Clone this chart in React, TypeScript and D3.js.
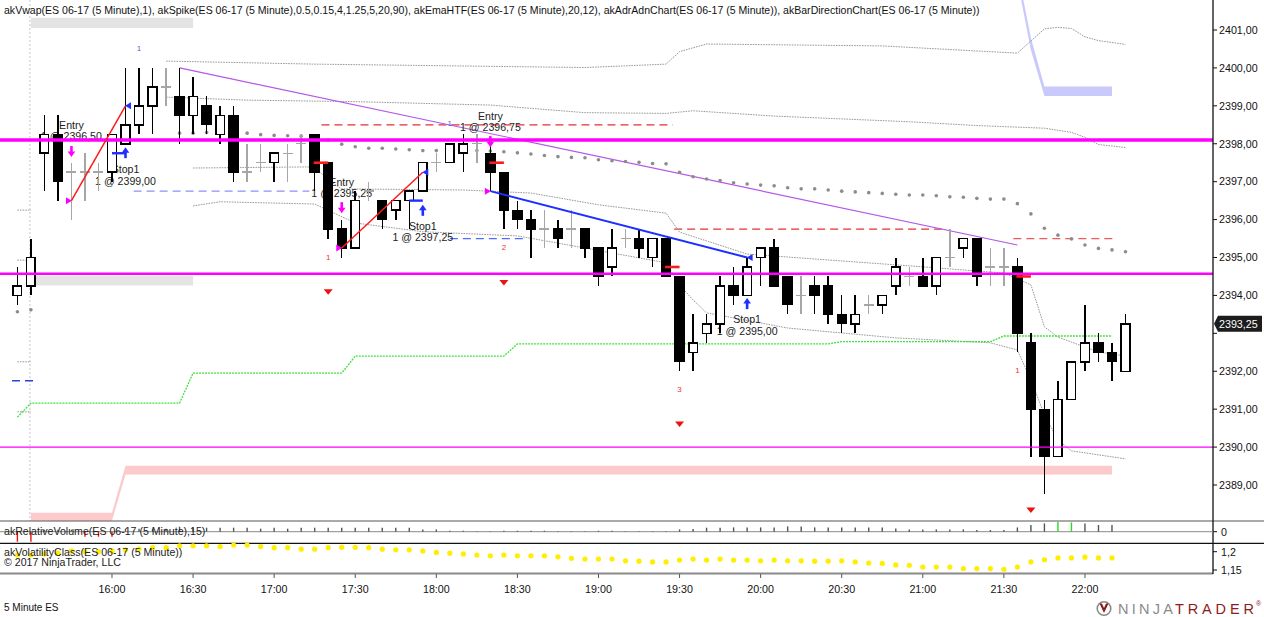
import React from "react";
import * as d3 from "d3";

// ---------- DATA ----------
const FIRST_BAR = "15:25";
const BAR_MINUTES = 5;

const open = [2394.0,2394.25,2397.75,2398.25,2397.25,2397.25,2397.25,2397.25,2398.0,2398.5,
2399.0,2399.5,2399.25,2398.75,2399.0,2398.25,2398.75,2397.25,2397.5,2397.5,
2397.75,2398.0,2398.25,2397.5,2395.75,2395.25,2396.75,2396.5,2396.25,2396.5,
2396.75,2397.5,2397.5,2397.75,2398.0,2397.75,2397.25,2396.25,2396.0,2395.75,
2395.75,2395.75,2395.75,2395.25,2394.75,2395.5,2395.5,2395.0,2395.5,2394.5,
2392.5,2393.0,2393.25,2394.25,2394.0,2395.0,2395.25,2394.5,2394.0,2394.25,
2394.25,2393.5,2393.25,2393.75,2393.75,2394.25,2394.5,2394.5,2394.25,2395.0,
2395.25,2395.5,2394.75,2394.75,2394.75,2392.75,2391.0,2389.75,2391.25,2392.25,
2392.75,2392.5,2392.0];
const high = [2394.75,2395.5,2398.75,2398.75,2397.5,2397.75,2397.5,2398.25,2400.0,2400.0,
2400.0,2400.0,2400.0,2399.75,2399.25,2399.0,2399.0,2398.0,2398.0,2397.75,
2398.0,2398.25,2398.25,2397.5,2396.0,2396.75,2397.0,2396.5,2396.5,2396.75,
2397.5,2397.75,2398.0,2398.25,2398.25,2398.0,2397.25,2396.5,2396.25,2396.25,
2396.0,2396.25,2395.75,2395.25,2395.75,2395.75,2395.75,2395.5,2395.5,2394.5,
2393.5,2393.5,2394.5,2394.75,2395.0,2395.25,2395.5,2394.5,2394.5,2394.5,
2394.5,2394.0,2394.0,2394.0,2394.0,2395.0,2394.75,2395.0,2395.0,2395.75,
2395.5,2395.5,2395.25,2395.25,2395.0,2393.0,2391.25,2391.75,2392.25,2393.75,
2393.0,2392.75,2393.5];
const low = [2393.75,2394.0,2396.75,2396.5,2396.0,2396.5,2396.75,2397.0,2398.0,2398.25,
2398.25,2399.0,2398.0,2398.25,2398.25,2398.0,2397.0,2397.0,2397.25,2397.0,
2397.0,2397.5,2396.75,2395.5,2395.0,2395.25,2396.5,2395.75,2396.0,2395.75,
2396.75,2397.25,2397.5,2397.25,2397.5,2396.75,2395.75,2395.75,2395.0,2395.25,
2395.25,2395.25,2395.0,2394.25,2394.5,2395.25,2395.0,2394.75,2394.5,2392.0,
2392.0,2392.75,2393.0,2393.75,2394.0,2394.25,2394.25,2393.5,2393.5,2393.5,
2393.25,2393.0,2393.0,2393.5,2393.5,2394.0,2394.25,2394.25,2394.0,2394.75,
2395.0,2394.25,2394.25,2394.25,2392.5,2389.75,2388.75,2389.75,2391.25,2392.0,
2392.25,2391.75,2392.0];
const close = [2394.25,2395.0,2398.25,2397.0,2397.25,2397.25,2397.25,2398.25,2398.5,2399.0,
2399.5,2399.5,2398.75,2399.25,2398.5,2398.75,2397.25,2397.25,2397.5,2397.75,
2397.75,2398.0,2397.25,2395.75,2395.25,2396.5,2396.75,2396.0,2396.5,2396.75,
2397.5,2397.5,2398.0,2398.0,2398.0,2397.25,2396.25,2396.0,2395.75,2395.75,
2395.5,2395.75,2395.25,2394.5,2395.25,2395.5,2395.25,2395.5,2394.5,2392.25,
2392.75,2393.25,2394.25,2394.0,2394.75,2395.25,2394.25,2393.75,2394.0,2394.0,
2393.5,2393.25,2393.5,2393.75,2394.0,2394.75,2394.5,2394.25,2395.0,2395.0,
2395.5,2394.5,2394.75,2394.75,2393.0,2391.0,2389.75,2391.25,2392.25,2392.75,
2392.5,2392.25,2393.25];

// akVwap big dots (null = not plotted)
const vwapDots = [2393.57,2393.62,null,null,null,null,null,null,null,null,null,null,
2398.28,2398.28,2398.30,2398.31,2398.30,2398.28,2398.24,2398.22,2398.21,2398.20,2398.19,
2398.10,2397.99,2397.92,2397.88,2397.88,2397.86,2397.84,2397.82,2397.82,
2397.82,2397.82,2397.82,2397.81,2397.79,2397.76,2397.73,2397.69,2397.66,2397.64,
2397.63,2397.58,2397.55,2397.53,2397.51,2397.48,2397.47,2397.25,2397.13,2397.07,
2397.03,2396.97,2396.94,2396.91,2396.89,2396.84,2396.81,2396.81,2396.78,2396.75,
2396.73,2396.71,2396.69,2396.67,2396.65,2396.65,2396.63,2396.60,2396.59,2396.56,
2396.54,2396.54,2396.42,2396.15,2395.77,2395.59,2395.49,2395.33,2395.24,2395.20,2395.15];

// band lines: [bar index, price] vertices
const bandUpper2: [number, number][] = [[11,2400.18],[22,2400.10],[42,2400.01],[48,2400.10],[49,2400.43],[51,2400.63],[64,2400.58],[74,2400.39],[76,2401.03],[77,2401.07],[78,2401.04],[79,2400.82],[80,2400.72],[82,2400.62]];
const bandUpper1: [number, number][] = [[11,2399.23],[17,2399.15],[25,2399.11],[35,2399.02],[42,2398.82],[48,2398.80],[50,2398.87],[56,2398.73],[66,2398.58],[71,2398.48],[76,2398.41],[78,2398.30],[79,2398.17],[80,2397.98],[82,2397.90]];
const bandLower1: [number, number][] = [[13,2397.36],[22,2397.39],[23,2397.04],[24,2396.81],[33,2396.78],[38,2396.70],[43,2396.39],[48,2396.17],[49,2395.67],[54,2395.09],[66,2394.78],[73,2394.59],[75,2394.28],[76,2393.17],[77,2392.90],[80,2392.51],[82,2392.40]];
const bandLower2: [number, number][] = [[13,2396.36],[15,2396.47],[22,2396.41],[25,2395.91],[30,2395.68],[37,2395.57],[42,2395.25],[48,2394.86],[49,2394.28],[50,2393.88],[51,2393.54],[57,2393.14],[65,2392.88],[72,2392.75],[74,2392.56],[75,2391.77],[76,2390.85],[77,2390.19],[78,2389.90],[82,2389.69]];
const prevSessionBands = [2396.25, 2394.93, 2392.25, 2390.93];

// akEmaHTF stepped line
const emaHTF: [number, number][] = [[0,2390.79],[1,2391.16],[12,2391.16],[13,2391.95],[24,2391.95],[25,2392.40],[36,2392.40],[37,2392.72],[60,2392.72],[61,2392.78],[72,2392.78],[73,2392.93],[81,2392.93]];

// akAdrAdn zones: [bar index, upper, lower]
const zoneGrayTop: [number, number, number][] = [[1,2401.32,2401.05],[13,2401.32,2401.05]];
const zoneGrayBottom: [number, number, number][] = [[1,2394.52,2394.26],[13,2394.52,2394.26]];
const zonePink: [number, number, number][] = [[1,2388.27,2388.06],[7,2388.27,2388.06],[8,2389.51,2389.28],[81,2389.51,2389.28]];
const zoneBlue: [number, number, number][] = [[74,2402.6,2402.3],[75,2400.79,2400.47],[76,2399.51,2399.26],[81,2399.51,2399.26]];

// horizontal levels
const magentaLevels = [2398.1, 2394.57, 2390.0];
const magentaWidths = [3.4, 2.4, 1.4];
const dashFrom = [22.5, 8.6, 32.0, 48.6, 73.7, -0.4];
const dashTo = [48.5, 21.6, 37.4, 68.4, 81.4, 1.3];
const dashPrice = [2398.5, 2396.75, 2395.5, 2395.75, 2395.5, 2391.75];
const dashColor = ["#e53030", "#8f8fff", "#4d6dff", "#e53030", "#ee5a5a", "#2a44d8"];

// trendline
const trendFrom: [number, number] = [12, 2400.0];
const trendTo: [number, number] = [74, 2395.33];

// trades
const tradeEntryIdx = [4, 24, 35];
const tradeEntryPrice = [2396.5, 2395.25, 2396.75];
const tradeExitIdx = [8, 30, 54];
const tradeExitPrice = [2399.0, 2397.25, 2395.0];
const tradeColor = ["#ff1a1a", "#ff1a1a", "#1f2fff"];
const labelIdx = [4, 8, 24, 30, 35, 54];
const labelTitle = ["Entry", "Stop1", "Entry", "Stop1", "Entry", "Stop1"];
const labelFill = ["1 @ 2396,50", "1 @ 2399,00", "1 @ 2395,25", "1 @ 2397,25", "1 @ 2396,75", "1 @ 2395,00"];
const labelPrice = [2398.39, 2397.22, 2396.89, 2395.73, 2398.63, 2393.26];

// akSpike markers
const sellArrowIdx = [4, 24, 35];
const sellArrowTip = [2397.65, 2396.17, 2397.91];
const buyArrowIdx = [8, 30, 54];
const buyArrowTip = [2397.91, 2396.39, 2393.93];
const stopTickFrom = [7, 29];
const stopTickPrice = [2397.75, 2396.5];
const redTickIdx = [22, 35, 48, 74];
const redTickPrice = [2397.5, 2397.5, 2394.75, 2394.5];
const countIdx = [23, 36, 49, 74];
const countText = ["1", "2", "3", "1"];
const countPrice = [2395.02, 2395.29, 2391.52, 2392.03];
const downTriIdx = [23, 36, 49, 75];
const downTriPrice = [2394.10, 2394.34, 2390.61, 2388.34];
const purpleOneIdx = [9, 32];
const purpleOnePrice = [2400.53, 2398.55];

// lower panels
const relVolume = [-10,-10,2,2,2,-5,-5,-5,3,3,
3,3,5,4,4,4,4,4,3,4,
3,4,4,4,4,4,4,4,4,4,
2.3,2.3,1,1,0.5,0.5,1,1,1,1,
0.5,0.5,0.5,1,1,0.5,0.5,0.5,0.5,2.3,
2.7,4,4,4.3,4.3,4.3,4.3,5.3,5.3,4.3,
4.3,4.3,4.3,4.3,4.3,3.3,2.3,2.3,2.3,2.3,
2.3,1.7,1.7,1.7,4.3,6.7,8.3,10,9.3,8.3,
6.7,6.7];
const volClass = [1.191,1.191,1.194,1.196,1.202,1.200,1.200,1.202,1.205,1.207,
1.211,1.211,1.216,1.216,1.216,1.214,1.218,1.218,1.214,1.211,
1.211,1.207,1.207,1.211,1.212,1.212,1.211,1.207,1.205,1.205,
1.202,1.198,1.196,1.194,1.191,1.189,1.191,1.189,1.189,1.189,
1.186,1.182,1.180,1.180,1.180,1.175,1.174,1.172,1.172,1.177,
1.180,1.177,1.180,1.177,1.177,1.175,1.177,1.175,1.175,1.174,
1.174,1.175,1.172,1.169,1.168,1.164,1.163,1.158,1.158,1.158,
1.154,1.154,1.154,1.152,1.158,1.172,1.178,1.183,1.183,1.185,
1.183,1.183];

const timeTicks = ["16:00","16:30","17:00","17:30","18:00","18:30","19:00","19:30","20:00","20:30","21:00","21:30","22:00"];
const priceTicks = [2389,2390,2391,2392,2393,2394,2395,2396,2397,2398,2399,2400,2401];
const volClassTicks = [1.2, 1.15];

const TITLE = "akVwap(ES 06-17 (5 Minute),1), akSpike(ES 06-17 (5 Minute),0.5,0.15,4,1.25,5,20,90), akEmaHTF(ES 06-17 (5 Minute),20,12), akAdrAdnChart(ES 06-17 (5 Minute)), akBarDirectionChart(ES 06-17 (5 Minute))";

// ---------- LAYOUT ----------
const W = 1264, H = 617;
const AXIS_X = 1213;
const MAIN_BOTTOM = 521;
const FONT = "'Liberation Sans', Arial, sans-serif";

const toMin = (s: string) => { const [h, m] = s.split(":").map(Number); return h * 60 + m; };

export default function App() {
  const n = open.length;
  const xs = d3.scaleLinear().domain([0, n - 1]).range([17.4, 1125.5]);
  const ys = d3.scaleLinear().domain([2389, 2401]).range([485, 30]);
  const yRel = d3.scaleLinear().domain([-10, 10]).range([541.7, 521.7]);
  const yVc = d3.scaleLinear().domain([1.15, 1.2]).range([570, 551.7]);
  const fmt = (v: number) => d3.format(".2f")(v).replace(".", ",");
  const fmtVc = (v: number) => String(v).replace(".", ",");

  const line = d3.line<[number, number]>().x(d => xs(d[0])).y(d => ys(d[1]));
  const area = d3.area<[number, number, number]>().x(d => xs(d[0])).y0(d => ys(d[2])).y1(d => ys(d[1]));

  const barIdxOfTime = (t: string) => (toMin(t) - toMin(FIRST_BAR)) / BAR_MINUTES;
  const lastY = ys(close[n - 1]);

  const candles = open.map((o, i) => {
    const c = close[i];
    const x = xs(i);
    if (o === c) {
      return (
        <g key={i} stroke="#a6a6a6" strokeWidth={1.4}>
          <line x1={x} x2={x} y1={ys(high[i])} y2={ys(low[i])} />
          <line x1={x - 5} x2={x + 5} y1={ys(o)} y2={ys(o)} />
        </g>
      );
    }
    const up = c > o;
    const top = ys(Math.max(o, c));
    const bot = ys(Math.min(o, c));
    return (
      <g key={i}>
        <line x1={x} x2={x} y1={ys(high[i])} y2={ys(low[i])} stroke="#000" strokeWidth={1.5} />
        {up ? (
          <rect x={x - 4.3} y={top} width={8.6} height={Math.max(bot - top, 1)} fill="#fff" stroke="#000" strokeWidth={1.5} />
        ) : (
          <rect x={x - 5.2} y={top - 0.6} width={10.4} height={Math.max(bot - top + 1.2, 1)} fill="#000" />
        )}
      </g>
    );
  });

  return (
    <div style={{ position: "absolute", left: 0, top: 0, width: W, height: H, overflow: "hidden", background: "#fff" }}>
      <style>{"body{margin:0;overflow:hidden}"}</style>
      <svg width={W} height={H} style={{ display: "block", fontFamily: FONT }}>
        <defs>
          <clipPath id="mainClip"><rect x={0} y={0} width={AXIS_X} height={MAIN_BOTTOM} /></clipPath>
        </defs>
        <rect x={0} y={0} width={W} height={H} fill="#fff" />

        <g clipPath="url(#mainClip)">
          {/* session break */}
          <line x1={xs(1) - 1} x2={xs(1) - 1} y1={0} y2={573} stroke="#cfcfcf" strokeWidth={1.2} strokeDasharray="2 2" />

          {/* ADR / ADN zones */}
          <path d={area(zoneGrayTop) || ""} fill="#e4e4e4" />
          <path d={area(zoneGrayBottom) || ""} fill="#e4e4e4" />
          <path d={area(zonePink) || ""} fill="#fccaca" />
          <path d={area(zoneBlue) || ""} fill="#c9c9fb" />

          {/* dashed levels */}
          {dashPrice.map((p, i) => (
            <line key={i} x1={xs(dashFrom[i])} x2={xs(dashTo[i])} y1={ys(p)} y2={ys(p)} stroke={dashColor[i]} strokeWidth={1.3} strokeDasharray="8 5" />
          ))}

          {/* vwap bands */}
          {[bandUpper2, bandUpper1, bandLower1, bandLower2].map((b, i) => (
            <path key={i} d={line(b) || ""} fill="none" stroke="#9a9a9a" strokeWidth={1} strokeDasharray="1.6 1" />
          ))}
          {prevSessionBands.map((p, i) => (
            <line key={i} x1={xs(0)} x2={xs(1)} y1={ys(p)} y2={ys(p)} stroke="#9a9a9a" strokeWidth={1} strokeDasharray="1.6 1" />
          ))}

          {/* ema htf */}
          <path d={line(emaHTF) || ""} fill="none" stroke="#3fe23f" strokeWidth={1.3} strokeDasharray="2 1" />

          {/* trendline */}
          <line x1={xs(trendFrom[0])} y1={ys(trendFrom[1])} x2={xs(trendTo[0])} y2={ys(trendTo[1])} stroke="#b557e8" strokeWidth={1.2} />

          {/* vwap dots */}
          {vwapDots.map((v, i) => v == null ? null : (
            <circle key={i} cx={xs(i)} cy={ys(v)} r={1.8} fill="#8c8c8c" />
          ))}

          {/* trade labels */}
          {labelIdx.map((bi, i) => (
            <g key={i} fontSize={10.6} fill="#222" textAnchor="middle">
              <text x={xs(bi)} y={ys(labelPrice[i])}>{labelTitle[i]}</text>
              <text x={xs(bi)} y={ys(labelPrice[i]) + 11.5}>{labelFill[i]}</text>
            </g>
          ))}

          {/* candles */}
          <g shapeRendering="crispEdges">{candles}</g>

          {/* magenta levels */}
          {magentaLevels.map((p, i) => (
            <line key={i} x1={0} x2={AXIS_X} y1={ys(p)} y2={ys(p)} stroke="#ff00ff" strokeWidth={magentaWidths[i]} />
          ))}

          {/* trade lines */}
          {tradeEntryIdx.map((ei, i) => (
            <line key={i} x1={xs(ei)} y1={ys(tradeEntryPrice[i])} x2={xs(tradeExitIdx[i])} y2={ys(tradeExitPrice[i])} stroke={tradeColor[i]} strokeWidth={i === 2 ? 2 : 1.5} />
          ))}
          {tradeEntryIdx.map((ei, i) => {
            const x = xs(ei), y = ys(tradeEntryPrice[i]);
            return <path key={"e" + i} d={`M${x - 5.5},${y - 3.5}L${x + 0.5},${y}L${x - 5.5},${y + 3.5}Z`} fill="#ff00ff" />;
          })}
          {tradeExitIdx.map((xi, i) => {
            const x = xs(xi), y = ys(tradeExitPrice[i]);
            return <path key={"x" + i} d={`M${x + 5.5},${y - 3.5}L${x - 0.5},${y}L${x + 5.5},${y + 3.5}Z`} fill="#1f2fff" />;
          })}

          {/* sell arrows */}
          {sellArrowIdx.map((bi, i) => {
            const x = xs(bi), t = ys(sellArrowTip[i]);
            return (
              <g key={i} fill="#ff00ff">
                <rect x={x - 1.3} y={t - 11} width={2.6} height={6.5} />
                <path d={`M${x - 3.8},${t - 5.5}L${x + 3.8},${t - 5.5}L${x},${t}Z`} />
              </g>
            );
          })}
          {/* buy arrows */}
          {buyArrowIdx.map((bi, i) => {
            const x = xs(bi), t = ys(buyArrowTip[i]);
            return (
              <g key={i} fill="#1f2fff">
                <rect x={x - 1.3} y={t + 4.5} width={2.6} height={6.5} />
                <path d={`M${x - 3.8},${t + 5.5}L${x + 3.8},${t + 5.5}L${x},${t}Z`} />
              </g>
            );
          })}
          {stopTickFrom.map((bi, i) => (
            <line key={i} x1={xs(bi)} x2={xs(bi + 1)} y1={ys(stopTickPrice[i])} y2={ys(stopTickPrice[i])} stroke="#1f2fff" strokeWidth={2.4} />
          ))}
          {redTickIdx.map((bi, i) => (
            <line key={i} x1={xs(bi) - 1} x2={xs(bi + 1)} y1={ys(redTickPrice[i])} y2={ys(redTickPrice[i])} stroke="#ff1a1a" strokeWidth={2.6} />
          ))}
          {countIdx.map((bi, i) => (
            <text key={i} x={xs(bi)} y={ys(countPrice[i]) + 3} fontSize={8} fill="#ee3333" textAnchor="middle">{countText[i]}</text>
          ))}
          {downTriIdx.map((bi, i) => {
            const x = xs(bi), y = ys(downTriPrice[i]);
            return <path key={i} d={`M${x - 4.5},${y - 2.5}L${x + 4.5},${y - 2.5}L${x},${y + 3}Z`} fill="#ee1111" />;
          })}
          {purpleOneIdx.map((bi, i) => (
            <text key={i} x={xs(bi)} y={ys(purpleOnePrice[i]) + 3} fontSize={8} fill="#5a5ad0" textAnchor="middle">1</text>
          ))}
        </g>

        {/* title */}
        <text x={4} y={14} fontSize={10.55} fill="#111">{TITLE}</text>

        {/* panels */}
        <line x1={0} x2={W} y1={MAIN_BOTTOM} y2={MAIN_BOTTOM} stroke="#555" strokeWidth={1} />
        <line x1={0} x2={W} y1={543.3} y2={543.3} stroke="#111" strokeWidth={1.2} />
        <line x1={0} x2={AXIS_X} y1={573.5} y2={573.5} stroke="#8a8a8a" strokeWidth={1.8} />
        <line x1={AXIS_X} x2={AXIS_X} y1={0} y2={574} stroke="#111" strokeWidth={1.3} />

        {/* relative volume */}
        <line x1={0} x2={AXIS_X} y1={yRel(0)} y2={yRel(0)} stroke="#8a8a8a" strokeWidth={1} />
        {relVolume.map((v, i) => (
          <line key={i} x1={xs(i)} x2={xs(i)} y1={yRel(0)} y2={yRel(v)}
            stroke={v < 0 ? "#ee1111" : v >= 9 ? "#22dd22" : "#555"} strokeWidth={1.4} />
        ))}
        <text x={4} y={535} fontSize={10.6} fill="#222">akRelativeVolume(ES 06-17 (5 Minute),15)</text>
        <line x1={AXIS_X} x2={AXIS_X + 4} y1={yRel(0)} y2={yRel(0)} stroke="#111" />
        <text x={1221} y={yRel(0) + 3.8} fontSize={10.7} fill="#111">0</text>

        {/* volatility class */}
        {volClass.map((v, i) => (
          <circle key={i} cx={xs(i)} cy={yVc(v)} r={2.6} fill="#ffee00" />
        ))}
        <text x={4} y={556} fontSize={10.6} fill="#222">akVolatilityClass(ES 06-17 (5 Minute))</text>
        <text x={4} y={566} fontSize={10.6} fill="#222">© 2017 NinjaTrader, LLC</text>
        {volClassTicks.map((v, i) => (
          <g key={i}>
            <line x1={AXIS_X} x2={AXIS_X + 4} y1={yVc(v)} y2={yVc(v)} stroke="#111" />
            <text x={1221} y={yVc(v) + 3.8} fontSize={10.7} fill="#111">{fmtVc(v)}</text>
          </g>
        ))}

        {/* price axis (labels under the last-price box are hidden, as in the reference) */}
        {priceTicks.map((p) => (
          <g key={p}>
            <line x1={AXIS_X} x2={AXIS_X + 4} y1={ys(p)} y2={ys(p)} stroke="#111" />
            {Math.abs(ys(p) - lastY) > 15 && (
              <text x={1219} y={ys(p) + 3.8} fontSize={10.7} fill="#111">{fmt(p)}</text>
            )}
          </g>
        ))}
        <g>
          <path d={`M${AXIS_X + 1},${lastY}L${AXIS_X + 5},${lastY - 8}L${W - 2},${lastY - 8}L${W - 2},${lastY + 8}L${AXIS_X + 5},${lastY + 8}Z`} fill="#1c1c1c" />
          <text x={1219} y={lastY + 3.8} fontSize={10.7} fill="#fff">{fmt(close[n - 1])}</text>
        </g>

        {/* time axis */}
        {timeTicks.map((t) => {
          const x = xs(barIdxOfTime(t));
          return (
            <g key={t}>
              <line x1={x} x2={x} y1={574} y2={578} stroke="#555" />
              <text x={x} y={593} fontSize={10.7} fill="#111" textAnchor="middle">{t}</text>
            </g>
          );
        })}
        <text x={4} y={611} fontSize={10} fill="#111">5 Minute ES</text>

        {/* logo */}
        <g>
          <circle cx={1104} cy={608.5} r={6.8} fill="none" stroke="#8a8a8a" strokeWidth={1.6} />
          <path d="M1099.5,603.5 L1104,613 L1108.5,603.5 L1106,603.5 L1104,608 L1102,603.5Z" fill="#8b1d1d" />
          <text x={1118} y={614} fontSize={14.5} fill="#8a8a8a" textLength={55} lengthAdjust="spacing">NINJA</text>
          <text x={1175} y={614} fontSize={14.5} fill="#8b1d1d" textLength={79} lengthAdjust="spacing">TRADER</text>
          <text x={1256} y={606} fontSize={7} fill="#8b1d1d">®</text>
        </g>
      </svg>
    </div>
  );
}
